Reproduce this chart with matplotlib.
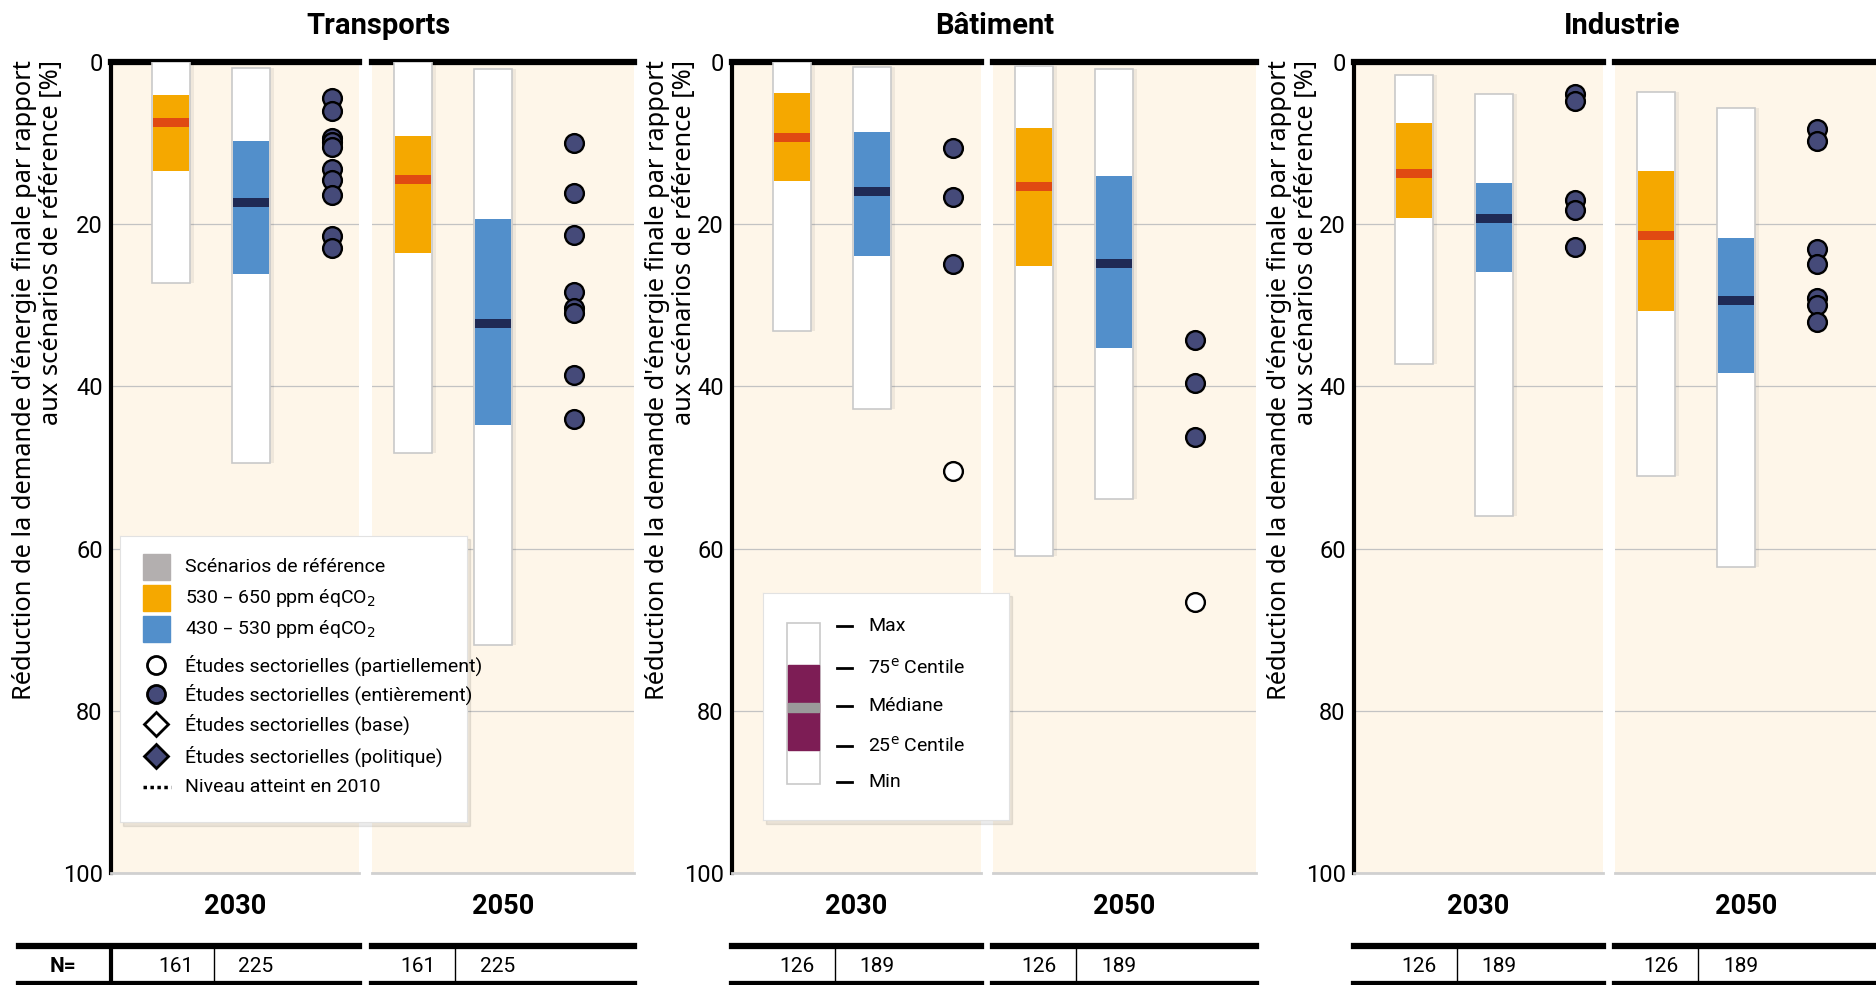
import numpy as np
import matplotlib.pyplot as plt
from matplotlib import font_manager
from matplotlib.patches import Rectangle
from matplotlib.lines import Line2D

# ---- data (% reduction vs reference scenarios) ----
sectors = ['Transports', 'Bâtiment', 'Industrie']
years = ['2030', '2050']

# [haut (min), 75e centile, médiane, 25e centile, bas (max)] per year
box_530_650 = {
    'Transports': [[0.0, 4.1, 7.5, 13.4, 27.2], [0.0, 9.1, 14.5, 23.6, 48.2]],
    'Bâtiment':   [[0.0, 3.8, 9.3, 14.7, 33.2], [0.5, 8.1, 15.4, 25.1, 60.9]],
    'Industrie':  [[1.6, 7.5, 13.8, 19.2, 37.2], [3.7, 13.5, 21.4, 30.7, 51.0]],
}
box_430_530 = {
    'Transports': [[0.8, 9.7, 17.3, 26.1, 49.5], [0.9, 19.4, 32.2, 44.8, 71.9]],
    'Bâtiment':   [[0.6, 8.6, 16.0, 23.9, 42.8], [0.9, 14.1, 24.9, 35.3, 53.9]],
    'Industrie':  [[3.9, 14.9, 19.3, 25.9, 56.0], [5.7, 21.7, 29.4, 38.4, 62.3]],
}
etudes_entier = {
    'Transports': [[4.4, 6.1, 9.4, 9.9, 10.5, 13.2, 14.6, 16.4, 21.4, 22.9],
                   [10.0, 16.1, 21.3, 28.4, 30.3, 30.9, 38.6, 44.0]],
    'Bâtiment':   [[10.6, 16.7, 24.9], [34.3, 39.6, 46.2]],
    'Industrie':  [[4.0, 4.8, 17.0, 18.2, 22.8],
                   [8.3, 9.7, 23.1, 24.9, 29.1, 30.0, 32.0]],
}
etudes_partiel = {
    'Transports': [[], []],
    'Bâtiment':   [[50.4], [66.6]],
    'Industrie':  [[], []],
}
n_530_650 = {'Transports': 161, 'Bâtiment': 126, 'Industrie': 126}
n_430_530 = {'Transports': 225, 'Bâtiment': 189, 'Industrie': 189}

# ---- colours ----
C_BG = '#fef6e9'
C_ORANGE = '#f5a800'
C_ORANGE_MED = '#e04a12'
C_BLUE = '#528fcb'
C_BLUE_MED = '#1f2a55'
C_DOT = '#454a79'
C_GRAY = '#b3afaf'
C_PURPLE = '#7d1d55'

names = {f.name for f in font_manager.fontManager.ttflist}
NARROW = 'Roboto' if 'Roboto' in names else 'DejaVu Sans'
LABELF = 'Noto Sans' if 'Noto Sans' in names else 'DejaVu Sans'
plt.rcParams['font.family'] = [NARROW, 'DejaVu Sans']

W, H = 1876, 985
fig = plt.figure(figsize=(W / 100, H / 100), dpi=100)


def fx(px):
    return px / W


def fy(py):
    return 1 - py / H


def ntext(x, y, s, size, weight='normal', **kw):
    fig.text(fx(x), fy(y), s, fontsize=size, fontweight=weight, **kw)


# panel extents in pixels
panel_px = {
    'Transports': [(111, 359), (372, 634)],
    'Bâtiment': [(732, 981), (993, 1256)],
    'Industrie': [(1354, 1603), (1615, 1877)],
}
title_x = {'Transports': 378, 'Bâtiment': 995, 'Industrie': 1622}
ylabel_x = {'Transports': 38, 'Bâtiment': 671, 'Industrie': 1293}
TOP, BOT = 62, 873
BW = 38  # bar width in px
offsets = [(60, 140, 221), (41, 121, 202)]


def draw_box(ax, x, st, col, med_col):
    lo, q75, med, q25, hi = st
    ax.bar(x + 2, hi - lo, bottom=lo, width=BW + 4, color='black', alpha=0.06, zorder=2)
    ax.bar(x, hi - lo, bottom=lo, width=BW, color='white', edgecolor='#c9c9c9',
           linewidth=1.2, zorder=3)
    ax.bar(x, q25 - q75, bottom=q75, width=BW - 2, color=col, zorder=4)
    ax.bar(x, 1.1, bottom=med - 0.55, width=BW - 2, color=med_col, zorder=5)


for s in sectors:
    for j, yr in enumerate(years):
        x0, x1 = panel_px[s][j]
        ax = fig.add_axes([fx(x0), fy(BOT), fx(x1) - fx(x0), (BOT - TOP) / H])
        ax.set_facecolor(C_BG)
        ax.set_xlim(0, x1 - x0)
        ax.set_ylim(100, 0)
        ox, bx, px = offsets[j]
        draw_box(ax, ox, box_530_650[s][j], C_ORANGE, C_ORANGE_MED)
        draw_box(ax, bx, box_430_530[s][j], C_BLUE, C_BLUE_MED)
        full = etudes_entier[s][j]
        ax.plot([px] * len(full), full, 'o', ms=13.5, mfc=C_DOT, mec='black',
                mew=1.7, ls='none', zorder=6)
        part = etudes_partiel[s][j]
        ax.plot([px] * len(part), part, 'o', ms=13.5, mfc='white', mec='black',
                mew=1.7, ls='none', zorder=6)

        ax.set_yticks([0, 20, 40, 60, 80, 100])
        ax.yaxis.grid(True, color='#c3c3c3', linewidth=0.9, zorder=0)
        ax.set_axisbelow(True)
        ax.set_xticks([])
        for sp in ax.spines.values():
            sp.set_visible(False)
        ax.spines['top'].set_visible(True)
        ax.spines['top'].set_linewidth(4.5)
        ax.spines['top'].set_color('black')
        ax.spines['bottom'].set_visible(True)
        ax.spines['bottom'].set_color('#d0d0d0')
        ax.spines['bottom'].set_linewidth(2)
        if j == 0:
            ax.spines['left'].set_visible(True)
            ax.spines['left'].set_linewidth(3)
            ax.tick_params(axis='y', length=0, pad=6, labelsize=17)
        else:
            ax.tick_params(axis='y', length=0, labelleft=False)

        # year label
        ntext((x0 + x1) / 2, 907, yr, 19.5, 'bold', ha='center', va='center')

        # N= table
        tx0 = 19 if (s == 'Transports' and j == 0) else x0
        fig.add_artist(Line2D([fx(tx0), fx(x1)], [fy(946), fy(946)], color='black', lw=4.5))
        fig.add_artist(Line2D([fx(tx0), fx(x1)], [fy(984), fy(984)], color='black', lw=4.5))
        sep = x0 + (103 if j == 0 else 83)
        fig.add_artist(Line2D([fx(sep), fx(sep)], [fy(946), fy(984)], color='black', lw=1))
        ntext(x0 + ox + 5, 966, str(n_530_650[s]), 15, ha='center', va='center')
        ntext(x0 + bx + 5, 966, str(n_430_530[s]), 15, ha='center', va='center')

    ntext(title_x[s], 26, s, 21, 'bold', ha='center', va='center')
    fig.text(fx(ylabel_x[s]), fy(TOP - 2),
             "Réduction de la demande d'énergie finale par rapport\naux scénarios de référence [%]",
             rotation=90, ha='center', va='top', multialignment='right',
             fontsize=18.3, linespacing=1.1, family=LABELF)

# Transports table header
fig.add_artist(Line2D([fx(111), fx(111)], [fy(946), fy(985)], color='black', lw=3))
ntext(63, 966, 'N=', 15, 'bold', ha='center', va='center')

# ---- legend 1 (Transports) ----
fig.add_artist(Rectangle((fx(123), fy(826)), fx(347), (826 - 539) / H,
                         transform=fig.transFigure, color='black', alpha=0.08, zorder=9))
lax = fig.add_axes([fx(120), fy(822), fx(347), (822 - 536) / H], zorder=10)
lax.set_xlim(120, 467)
lax.set_ylim(822, 536)
lax.set_xticks([])
lax.set_yticks([])
for sp in lax.spines.values():
    sp.set_color('#e2e2e2')
legend_rows = [
    ('sq', C_GRAY, 567, 'Scénarios de référence'),
    ('sq', C_ORANGE, 598, '530 – 650 ppm éqCO$_2$'),
    ('sq', C_BLUE, 629, '430 – 530 ppm éqCO$_2$'),
    ('o', 'white', 665, 'Études sectorielles (partiellement)'),
    ('o', C_DOT, 694, 'Études sectorielles (entièrement)'),
    ('D', 'white', 724, 'Études sectorielles (base)'),
    ('D', C_DOT, 756, 'Études sectorielles (politique)'),
    ('line', 'black', 787, 'Niveau atteint en 2010'),
]
for kind, col, yy, label in legend_rows:
    if kind == 'sq':
        lax.add_patch(Rectangle((143, yy - 13), 27, 26, color=col))
    elif kind == 'line':
        lax.plot([143, 171], [yy, yy], color='black', lw=2.5, ls=(0, (1, 1)))
    else:
        lax.plot([156], [yy], kind, ms=13 if kind == 'o' else 12, mfc=col,
                 mec='black', mew=2)
    lax.text(185, yy, label, fontsize=14, va='center', ha='left')

# ---- legend 2 (Bâtiment) ----
fig.add_artist(Rectangle((fx(766), fy(824)), fx(246), (824 - 596) / H,
                         transform=fig.transFigure, color='black', alpha=0.08, zorder=9))
bax = fig.add_axes([fx(763), fy(820), fx(246), (820 - 593) / H], zorder=10)
bax.set_xlim(763, 1009)
bax.set_ylim(820, 593)
bax.set_xticks([])
bax.set_yticks([])
for sp in bax.spines.values():
    sp.set_color('#e2e2e2')
bax.add_patch(Rectangle((787, 623), 33, 161, facecolor='white', edgecolor='#c9c9c9', lw=1.2))
bax.add_patch(Rectangle((788, 665), 31, 85, color=C_PURPLE))
bax.add_patch(Rectangle((788, 703), 31, 9, color='#9a9a9a'))
for yy, label in [(626, 'Max'), (668, '75$^{\\mathrm{e}}$ Centile'), (706, 'Médiane'),
                  (746, '25$^{\\mathrm{e}}$ Centile'), (782, 'Min')]:
    bax.plot([837, 852], [yy, yy], color='black', lw=2)
    bax.text(868, yy, label, fontsize=14, va='center', ha='left')

fig.savefig('out.png', dpi=100, facecolor='white')
